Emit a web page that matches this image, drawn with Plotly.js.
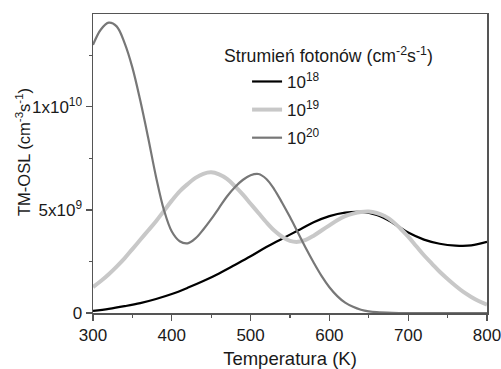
<!DOCTYPE html>
<html>
<head>
<meta charset="utf-8">
<script src="https://cdn.plot.ly/plotly-3.0.1.min.js"></script>
<style>html,body{margin:0;padding:0;background:#fff;}#chart{width:501px;height:369px;}</style>
</head>
<body>
<div id="chart"></div>
<script>
// Series 10^18 (black)
const t18 = [300, 320, 340, 360, 380, 400, 420, 440, 460, 480, 500, 520, 540, 560, 580, 600, 620, 640, 660, 680, 700, 720, 740, 760, 780, 800];
const v18 = [0.1e9, 0.2e9, 0.33e9, 0.48e9, 0.68e9, 0.92e9, 1.22e9, 1.55e9, 1.92e9, 2.33e9, 2.75e9, 3.2e9, 3.6e9, 4.0e9, 4.4e9, 4.7e9, 4.87e9, 4.9e9, 4.75e9, 4.38e9, 3.9e9, 3.56e9, 3.36e9, 3.27e9, 3.28e9, 3.45e9];
// Series 10^19 (light grey)
const t19 = [300, 310, 320, 330, 340, 350, 360, 370, 380, 390, 400, 410, 420, 430, 440, 450, 460, 470, 480, 490, 500, 510, 520, 530, 540, 550, 560, 570, 580, 590, 600, 610, 620, 630, 640, 650, 660, 670, 680, 690, 700, 710, 720, 730, 740, 750, 760, 770, 780, 790, 800];
const v19 = [1.26e9, 1.55e9, 1.88e9, 2.25e9, 2.65e9, 3.1e9, 3.55e9, 4.0e9, 4.45e9, 4.95e9, 5.45e9, 5.9e9, 6.25e9, 6.55e9, 6.75e9, 6.82e9, 6.72e9, 6.5e9, 6.15e9, 5.75e9, 5.3e9, 4.85e9, 4.4e9, 4.0e9, 3.7e9, 3.5e9, 3.45e9, 3.55e9, 3.75e9, 4.0e9, 4.25e9, 4.5e9, 4.7e9, 4.82e9, 4.9e9, 4.92e9, 4.85e9, 4.7e9, 4.45e9, 4.1e9, 3.7e9, 3.25e9, 2.8e9, 2.4e9, 2.0e9, 1.65e9, 1.32e9, 1.02e9, 0.78e9, 0.57e9, 0.4e9];
// Series 10^20 (dark grey)
const t20 = [300, 310, 320, 330, 340, 350, 360, 370, 380, 390, 400, 410, 420, 430, 440, 450, 460, 470, 480, 490, 500, 510, 520, 530, 540, 550, 560, 570, 580, 590, 600, 610, 620, 630, 640, 650, 660, 680, 700, 750, 800];
const v20 = [13.0e9, 13.75e9, 14.08e9, 13.9e9, 13.1e9, 11.9e9, 10.3e9, 8.5e9, 6.6e9, 5.0e9, 3.95e9, 3.48e9, 3.38e9, 3.62e9, 4.05e9, 4.55e9, 5.1e9, 5.65e9, 6.1e9, 6.45e9, 6.68e9, 6.74e9, 6.5e9, 6.0e9, 5.35e9, 4.65e9, 3.9e9, 3.15e9, 2.45e9, 1.8e9, 1.25e9, 0.82e9, 0.5e9, 0.3e9, 0.16e9, 0.08e9, 0.04e9, 0.01e9, 0, 0, 0];

const seriesNames = ['10<sup>18</sup>', '10<sup>19</sup>', '10<sup>20</sup>'];
const xTickVals = [300, 400, 500, 600, 700, 800];
const yTickVals = [0, 5e9, 1e10];
const yTickText = ['0', '5x10<sup>9</sup>', '1x10<sup>10</sup>'];

const font = 'Liberation Sans, Arial, sans-serif';
const txt = '#1a1a1a';

const traces = [
  {x: t18, y: v18, name: seriesNames[0], legendgroup: 'a', mode: 'lines', line: {color: '#000000', width: 2.2, shape: 'spline', smoothing: 1}},
  {x: t19, y: v19, name: seriesNames[1], legendgroup: 'b', mode: 'lines', line: {color: '#c8c8c8', width: 4, shape: 'spline', smoothing: 1}},
  {x: t20, y: v20, name: seriesNames[2], legendgroup: 'c', mode: 'lines', line: {color: '#777777', width: 2.2, shape: 'spline', smoothing: 1}}
];

const axisCommon = {
  showline: true, linecolor: '#555555', linewidth: 1.5, mirror: true,
  ticks: 'outside', ticklen: 6, tickwidth: 1.2, tickcolor: '#555555',
  showgrid: false, zeroline: false, ticklabeloverflow: 'allow',
  tickfont: {family: font, size: 17, color: txt}
};

const layout = {
  width: 501, height: 369,
  margin: {l: 93, r: 14, t: 14, b: 56},
  paper_bgcolor: '#ffffff', plot_bgcolor: '#ffffff',
  font: {family: font, size: 17, color: txt},
  showlegend: true,
  legend: {
    x: 0.391, y: 0.833, xanchor: 'left', yanchor: 'top',
    traceorder: 'grouped', tracegroupgap: 3,
    bgcolor: 'rgba(0,0,0,0)', borderwidth: 0,
    font: {family: font, size: 17, color: txt}
  },
  xaxis: Object.assign({}, axisCommon, {
    range: [300, 800], tickvals: xTickVals,
    minor: {dtick: 50, ticks: 'outside', ticklen: 3, tickcolor: '#555555', tickwidth: 1.2},
    title: {text: 'Temperatura (K)', font: {family: font, size: 18.5, color: txt}, standoff: 8}
  }),
  yaxis: Object.assign({}, axisCommon, {
    range: [0, 1.45e10], tickvals: yTickVals, ticktext: yTickText,
    minor: {tickvals: [2.5e9, 7.5e9, 1.25e10], ticks: 'outside', ticklen: 3, tickcolor: '#555555', tickwidth: 1.2}
  }),
  annotations: [
    {
      xref: 'paper', yref: 'paper', x: (222 - 93) / 394, y: (313 - 55) / 299,
      xanchor: 'left', yanchor: 'middle', showarrow: false,
      text: 'Strumień fotonów (cm<sup>-2</sup>s<sup>-1</sup>)',
      font: {family: font, size: 17.7, color: txt}
    },
    {
      xref: 'paper', yref: 'paper', x: (23 - 93) / 394, y: (313 - 152) / 299,
      xanchor: 'center', yanchor: 'middle', showarrow: false, textangle: -90,
      text: 'TM-OSL (cm<sup>-3</sup>s<sup>-1</sup>)',
      font: {family: font, size: 16.5, color: txt}
    }
  ]
};

Plotly.newPlot('chart', traces, layout, {displayModeBar: false, staticPlot: true});
</script>
</body>
</html>
